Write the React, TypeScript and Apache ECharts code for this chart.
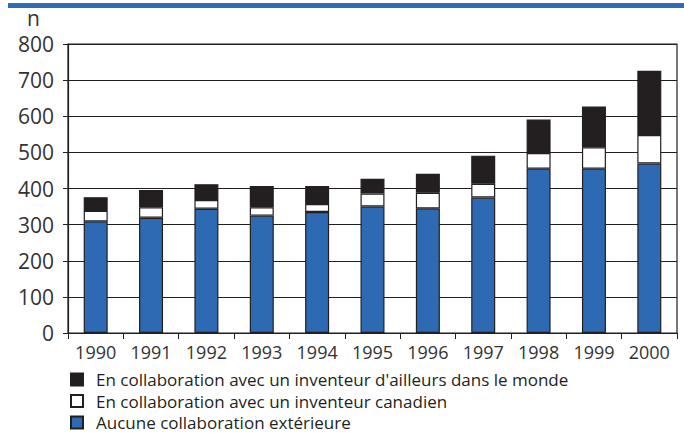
import React, { useEffect, useRef } from "react";
import * as echarts from "echarts";

const years = ["1990", "1991", "1992", "1993", "1994", "1995", "1996", "1997", "1998", "1999", "2000"];
const aucune = [309, 319, 344, 325, 335, 350, 345, 375, 455, 455, 469];
const canadien = [29, 29, 24, 23, 22, 36, 43, 38, 43, 59, 79];
const ailleurs = [38, 48, 44, 59, 50, 41, 53, 78, 93, 113, 178];
const yTicks = [0, 100, 200, 300, 400, 500, 600, 700, 800];

const nameAucune = "Aucune collaboration extérieure";
const nameCanadien = "En collaboration avec un inventeur canadien";
const nameAilleurs = "En collaboration avec un inventeur d'ailleurs dans le monde";

const FONT = "'Open Sans', 'DejaVu Sans', sans-serif";
const INK = "#231f20";

export default function App() {
  const ref = useRef<HTMLDivElement>(null);
  useEffect(() => {
    if (!ref.current) return;
    const chart = echarts.init(ref.current, null, { renderer: "svg" });
    const border = { borderColor: INK, borderWidth: 1.2 };
    chart.setOption({
      animation: false,
      backgroundColor: "#ffffff",
      grid: {
        left: 68, right: 7, top: 44, bottom: 100,
        show: true, borderColor: INK, borderWidth: 1.2, backgroundColor: "transparent",
      },
      graphic: [
        { type: "rect", left: 8, top: 3, shape: { width: 676, height: 5 }, style: { fill: "#2f6bb6" } },
        { type: "text", left: 27, top: 7, style: { text: "n", font: `21px ${FONT}`, fill: "#333333" } },
      ],
      legend: {
        orient: "vertical",
        left: 70, top: 371, height: 120,
        padding: 0,
        itemWidth: 12, itemHeight: 12, itemGap: 4.5,
        icon: "rect",
        data: [nameAilleurs, nameCanadien, nameAucune],
        textStyle: { fontFamily: FONT, fontSize: 17, lineHeight: 16, color: INK, padding: [0, 0, 0, 8] },
        selectedMode: false,
      },
      xAxis: {
        type: "category",
        data: years,
        boundaryGap: true,
        axisLine: { lineStyle: { color: INK, width: 1.2 } },
        axisTick: { show: true, length: 6, inside: false, lineStyle: { color: INK } },
        axisLabel: { fontFamily: FONT, fontSize: 18, color: "#333333", margin: 10 },
      },
      yAxis: {
        type: "value",
        min: 0, max: 800, interval: 100,
        axisLine: { show: true, lineStyle: { color: INK, width: 1.2 } },
        axisTick: { show: true, length: 5, lineStyle: { color: INK } },
        axisLabel: {
          fontFamily: FONT, fontSize: 21, color: "#333333", margin: 14,
          formatter: (v: number) => (yTicks.includes(v) ? String(v) : ""),
        },
        splitLine: { show: true, lineStyle: { color: INK, width: 1.2 } },
      },
      series: [
        { name: nameAucune, type: "bar", stack: "t", data: aucune, barWidth: 24, itemStyle: { color: "#2e69b3", ...border } },
        { name: nameCanadien, type: "bar", stack: "t", data: canadien, barWidth: 24, itemStyle: { color: "#ffffff", ...border } },
        { name: nameAilleurs, type: "bar", stack: "t", data: ailleurs, barWidth: 24, itemStyle: { color: INK, ...border } },
      ],
    });
    return () => chart.dispose();
  }, []);
  return <div ref={ref} style={{ width: 684, height: 433, position: "absolute", left: 0, top: 0 }} />;
}
